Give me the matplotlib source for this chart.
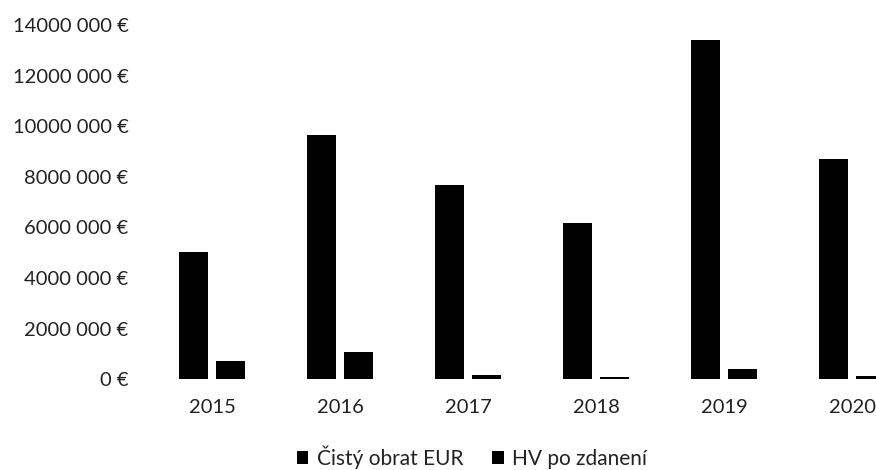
import matplotlib
matplotlib.use("Agg")
import matplotlib.pyplot as plt
import numpy as np
from matplotlib.ticker import FuncFormatter, MultipleLocator

years = ["2015", "2016", "2017", "2018", "2019", "2020"]
obrat = [5.02e6, 9.66e6, 7.67e6, 6.17e6, 13.41e6, 8.70e6]
hv = [0.72e6, 1.09e6, 0.17e6, 0.08e6, 0.41e6, 0.12e6]
series_names = ["Čistý obrat EUR", "HV po zdanení"]

plt.rcParams['font.family'] = ['Lato', 'DejaVu Sans']

W, H = 876, 470
fig = plt.figure(figsize=(W / 100, H / 100), dpi=100)
left, right = 148 / W, 916 / W
bottom, top = 1 - 379.3 / H, 1 - 25 / H
ax = fig.add_axes([left, bottom, right - left, top - bottom])

x = np.arange(len(years))
bw = 0.23
off = 0.1425
ax.bar(x - off, obrat, width=bw, color="black", label=series_names[0])
ax.bar(x + off, hv, width=bw, color="black", label=series_names[1])

ax.set_xlim(-0.5, len(years) - 0.5)
ax.set_ylim(0, 14e6)
ax.yaxis.set_major_locator(MultipleLocator(2e6))
ax.yaxis.set_major_formatter(FuncFormatter(lambda v, p: "0 €" if v == 0 else f"{int(round(v / 1000))} 000 €"))
ax.set_xticks(x)
ax.set_xticklabels(years)
for s in ax.spines.values():
    s.set_visible(False)
ax.tick_params(axis="y", length=0, pad=14, labelsize=14.5, colors="#222222")
ax.tick_params(axis="x", length=0, pad=14, labelsize=14.5, colors="#222222")

ax.legend(loc="center", bbox_to_anchor=(472 / W, 1 - 457 / H), bbox_transform=fig.transFigure,
          ncol=2, frameon=False, fontsize=15, handlelength=0.55, handleheight=0.55,
          handletextpad=0.4, columnspacing=1.4, labelcolor="#222222")

fig.savefig("out.png", dpi=100)
